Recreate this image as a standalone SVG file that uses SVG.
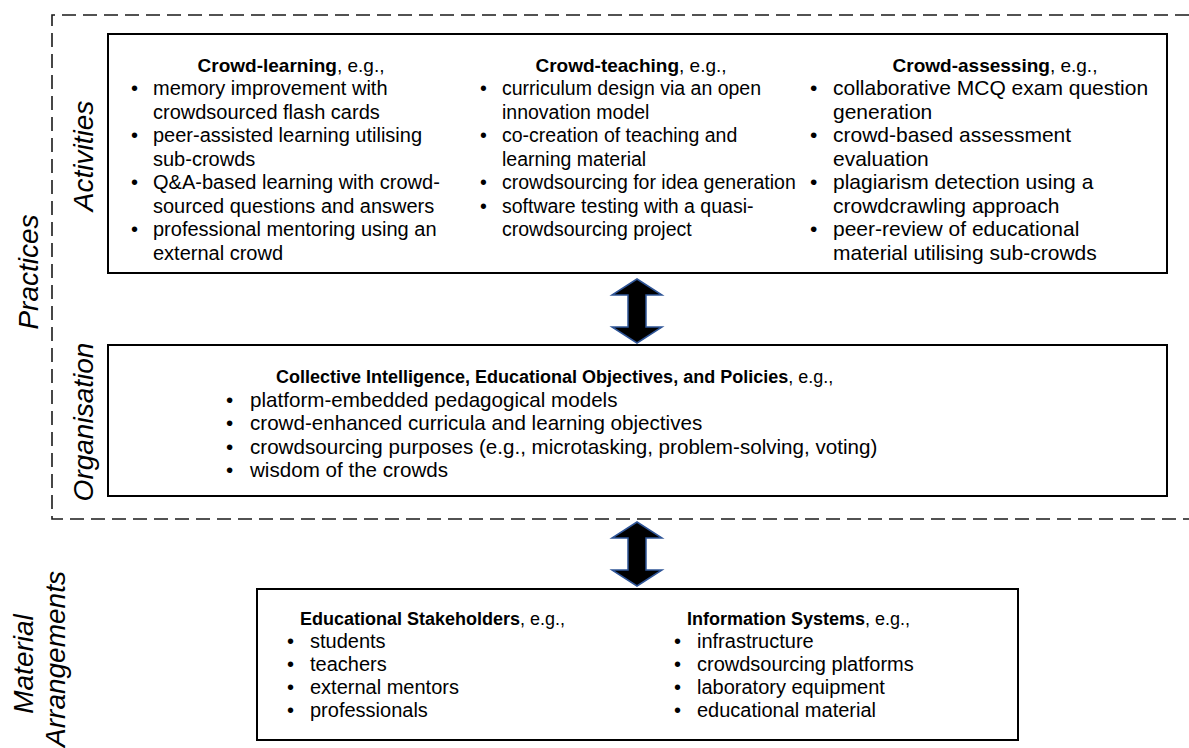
<svg xmlns="http://www.w3.org/2000/svg" width="1189" height="748" viewBox="0 0 1189 748">
  <style>
    text { font-family: "Liberation Sans", Arial, sans-serif; fill: #000; }
    .t { font-size: 19px; font-weight: bold; }
    .t tspan.n { font-weight: normal; }
    .c1 { font-size: 20px; }
    .c2 { font-size: 19.5px; }
    .c3 { font-size: 21px; }
    .org { font-size: 20.6px; }
    .mat { font-size: 20px; }
    .lbl { font-size: 28px; font-style: italic; text-anchor: middle; }
    .box { fill: #fff; stroke: #000; stroke-width: 2; }
    .dash { fill: none; stroke: #1a1a1a; stroke-width: 1.6; stroke-dasharray: 14 7; }
    .dbl { fill: #000; stroke: #2f5597; stroke-width: 1.5; stroke-linejoin: miter; }
  </style>
  <defs>
    <polygon id="dblArrow" class="dbl" points="0,0 25,16 9,16 9,48 25,48 0,64 -25,48 -9,48 -9,16 -25,16"/>
  </defs>

  <rect width="1189" height="748" fill="#fff"/>

  <!-- practices frame (open on the right) -->
  <g id="practices-frame">
    <path class="dash" d="M1189,15 H52 V519 H1189"/>
  </g>

  <!-- side labels -->
  <g id="side-labels">
    <text class="lbl" transform="translate(38,272) rotate(-90)">Practices</text>
    <text class="lbl" transform="translate(93,156) rotate(-90)">Activities</text>
    <text class="lbl" transform="translate(93,422) rotate(-90)">Organisation</text>
    <text class="lbl" transform="translate(33,664) rotate(-90)">Material</text>
    <text class="lbl" transform="translate(65,659) rotate(-90)">Arrangements</text>
  </g>

  <!-- activities -->
  <g id="activities">
    <rect class="box" x="108" y="34" width="1059" height="239"/>
    <text class="t" x="291" y="71.5" text-anchor="middle">Crowd-learning<tspan class="n">, e.g.,</tspan></text>
    <g class="c1">
      <text x="131" y="95">•</text><text x="153" y="95">memory improvement with</text>
      <text x="153" y="118.5">crowdsourced flash cards</text>
      <text x="131" y="142">•</text><text x="153" y="142">peer-assisted learning utilising</text>
      <text x="153" y="165.5">sub-crowds</text>
      <text x="131" y="189">•</text><text x="153" y="189">Q&amp;A-based learning with crowd-</text>
      <text x="153" y="212.5">sourced questions and answers</text>
      <text x="131" y="236">•</text><text x="153" y="236">professional mentoring using an</text>
      <text x="153" y="259.5">external crowd</text>
    </g>

    <text class="t" x="631" y="71.5" text-anchor="middle">Crowd-teaching<tspan class="n">, e.g.,</tspan></text>
    <g class="c2">
      <text x="480" y="95">•</text><text x="502" y="95">curriculum design via an open</text>
      <text x="502" y="118.5">innovation model</text>
      <text x="480" y="142">•</text><text x="502" y="142">co-creation of teaching and</text>
      <text x="502" y="165.5">learning material</text>
      <text x="480" y="189">•</text><text x="502" y="189">crowdsourcing for idea generation</text>
      <text x="480" y="212.5">•</text><text x="502" y="212.5">software testing with a quasi-</text>
      <text x="502" y="236">crowdsourcing project</text>
    </g>

    <text class="t" x="995" y="71.5" text-anchor="middle">Crowd-assessing<tspan class="n">, e.g.,</tspan></text>
    <g class="c3">
      <text x="810" y="95">•</text><text x="833" y="95">collaborative MCQ exam question</text>
      <text x="833" y="118.5">generation</text>
      <text x="810" y="142">•</text><text x="833" y="142">crowd-based assessment</text>
      <text x="833" y="165.5">evaluation</text>
      <text x="810" y="189">•</text><text x="833" y="189">plagiarism detection using a</text>
      <text x="833" y="212.5">crowdcrawling approach</text>
      <text x="810" y="236">•</text><text x="833" y="236">peer-review of educational</text>
      <text x="833" y="259.5">material utilising sub-crowds</text>
    </g>
  </g>

  <!-- organisation -->
  <g id="organisation">
    <rect class="box" x="108" y="345" width="1059" height="151"/>
    <text class="t" x="276" y="383" style="font-size:18px">Collective Intelligence, Educational Objectives, and Policies<tspan class="n">, e.g.,</tspan></text>
    <g class="org">
      <text x="226" y="406.5">•</text><text x="250" y="406.5">platform-embedded pedagogical models</text>
      <text x="226" y="430">•</text><text x="250" y="430">crowd-enhanced curricula and learning objectives</text>
      <text x="226" y="453.5">•</text><text x="250" y="453.5">crowdsourcing purposes (e.g., microtasking, problem-solving, voting)</text>
      <text x="226" y="477">•</text><text x="250" y="477">wisdom of the crowds</text>
    </g>
  </g>

  <!-- material arrangements -->
  <g id="material-arrangements">
    <rect class="box" x="257" y="589" width="761" height="151"/>
    <text class="t" x="300" y="625" style="font-size:18px">Educational Stakeholders<tspan class="n">, e.g.,</tspan></text>
    <text class="t" x="687" y="625" style="font-size:18px">Information Systems<tspan class="n">, e.g.,</tspan></text>
    <g class="mat">
      <text x="287" y="648">•</text><text x="310" y="648">students</text>
      <text x="287" y="671">•</text><text x="310" y="671">teachers</text>
      <text x="287" y="694">•</text><text x="310" y="694">external mentors</text>
      <text x="287" y="717">•</text><text x="310" y="717">professionals</text>

      <text x="674" y="648">•</text><text x="697" y="648">infrastructure</text>
      <text x="674" y="671">•</text><text x="697" y="671">crowdsourcing platforms</text>
      <text x="674" y="694">•</text><text x="697" y="694">laboratory equipment</text>
      <text x="674" y="717">•</text><text x="697" y="717">educational material</text>
    </g>
  </g>

  <!-- connectors -->
  <g id="connectors">
    <use href="#dblArrow" x="637" y="279"/>
    <use href="#dblArrow" x="637" y="522"/>
  </g>
</svg>
